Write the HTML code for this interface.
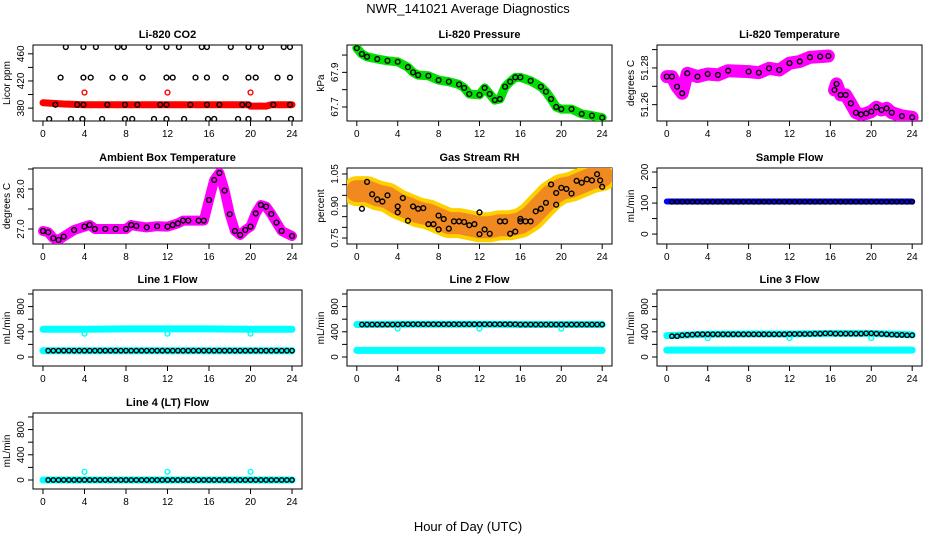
<!DOCTYPE html>
<html><head><meta charset="utf-8"><style>
html,body{margin:0;padding:0;background:#fff;}
svg{display:block;font-family:"Liberation Sans",Arial,sans-serif;}
</style></head><body>
<svg id="chart" width="936" height="540" viewBox="0 0 936 540" xmlns="http://www.w3.org/2000/svg">
<rect width="936" height="540" fill="#fff"/>
<text x="468" y="13" text-anchor="middle" font-size="13">NWR_141021  Average Diagnostics</text>
<text x="468" y="531" text-anchor="middle" font-size="13">Hour of Day (UTC)</text>
</svg>
<script>
// ---------- data ----------
const xTicks = [0,4,8,12,16,20,24];
// CO2
const co2BlackHours = [2.2,3.9,5.1,7.2,7.8,10.2,11.9,13.1,15.3,15.8,18.1,19.8,21.0,23.2,23.8,
 1.7,3.9,4.6,6.7,7.9,9.6,11.9,12.5,14.7,15.8,17.6,19.8,20.5,22.6,23.8,
 1.2,3.3,3.9,6.2,7.9,9.1,11.3,11.9,14.2,15.8,17.0,19.2,19.8,22.2,23.8,
 0.6,2.7,3.8,5.7,7.9,8.6,10.7,11.9,13.6,15.9,16.5,18.8,19.8,21.7,23.9];
const co2BlackVals = [470,470,470,470,470,470,470,470,470,470,470,470,470,470,470,
 425,425,425,425,425,425,425,425,425,425,425,425,425,425,425,
 385,385,385,385,385,385,385,385,385,385,385,385,385,385,385,
 364,364,364,364,364,364,364,364,364,364,364,364,364,364,364];
const co2BandHours = [0,1,2,4,6,8,10,12,14,16,18,19.8,20,21.5,22,24];
const co2BandVals  = [388,387,386,385,385,385,385,385,385,385,385,385,383,383,385,385];
const co2SpikeHours = [4,12,20];
const co2SpikeVals = [403,403,403];
// Pressure
const presHours = [0,0.5,1,2,3,4,5,5.5,6,7,8,9,10,10.5,11,12,12.5,13,13.5,14,14.5,15,15.5,16,17,18,18.5,19,19.5,20,21,22,23,24];
const presVals  = [68.04,68.006,67.99,67.977,67.967,67.961,67.93,67.90,67.884,67.88,67.855,67.846,67.83,67.81,67.775,67.77,67.81,67.775,67.74,67.746,67.817,67.846,67.871,67.871,67.851,67.817,67.788,67.746,67.70,67.688,67.688,67.66,67.65,67.638];
// Li-820 temperature (null = gap)
const tempHours = [0,0.5,1,1.5,2,3,4,5,6,8,9,10,11,12,13,14,15,15.8,16.1,16.4,16.6,17,17.5,18,18.5,19,19.5,20,20.5,21,21.5,22,23,24];
const tempVals  = [51.2753,51.2753,51.2698,51.2662,51.2771,51.2753,51.2767,51.2762,51.2785,51.278,51.2774,51.2798,51.2789,51.2826,51.2835,51.2858,51.2862,51.2865,null,51.268,51.2713,51.2653,51.2653,51.2607,51.2556,51.2547,51.2552,51.2562,51.2586,51.2571,51.258,51.2556,51.2538,51.2531];
// Ambient box temperature
const ambHours = [0,0.5,1,1.5,2,3,4,4.5,5,6,7,8,8.5,9,10,11,12,12.5,13,13.5,14,15,15.5,16,16.5,17,17.5,18,18.5,19,19.5,20,20.5,21,21.5,22,22.5,23,24];
const ambVals  = [26.95,26.92,26.77,26.725,26.81,26.975,27.06,27.1,27.0,27.0,27.0,27.0,27.1,27.075,27.04,27.07,27.06,27.1,27.14,27.21,27.21,27.21,27.21,27.725,28.225,28.4,27.96,27.37,26.95,26.85,26.975,27.06,27.39,27.6,27.56,27.375,27.16,26.95,26.825];
// Gas stream RH
const rhHours = [0.5,1,1.5,2,2.5,3,4,4,4.5,5,5.5,6,6.5,7,7.5,8,8,8.5,9,9.5,10,10.5,11,11.5,12,12,12.5,13,14,14.5,15,15.5,16,16,16.5,17,17.5,18,18.5,19,19.5,19.5,20,20.5,21,21.5,22,22.5,23,23.5,23.8,24];
const rhVals  = [0.887,1.013,0.955,0.931,0.921,0.95,0.898,0.87,0.937,0.831,0.898,0.887,0.89,0.815,0.815,0.855,0.79,0.839,0.794,0.828,0.828,0.825,0.81,0.815,0.768,0.87,0.79,0.77,0.828,0.828,0.77,0.78,0.828,0.84,0.828,0.828,0.875,0.887,0.915,1.001,0.906,0.961,0.985,0.98,0.958,1.018,1.009,1.025,1.02,1.049,1.02,0.99];
const rhBandHours = [0,1,2,3,4,5,6,7,8,9,10,11,12,13,14,15,16,17,18,19,20,21,22,23,24];
const rhBandVals  = [0.97,0.97,0.95,0.94,0.91,0.89,0.87,0.86,0.84,0.82,0.82,0.81,0.80,0.80,0.81,0.81,0.82,0.85,0.90,0.95,0.98,0.99,1.01,1.03,1.04];
// Flows (half-hourly)
const flowBandHours = [0,4,8,12,16,20,24];
const sampleBand = [105,105,105,105,105,105,105];
const sampleBlack = [104,104,104,104,104,104,104,104,104,104,104,104,104,104,104,104,104,104,104,104,104,104,104,104,104,104,104,104,104,104,104,104,104,104,104,104,104,104,104,104,104,104,104,104,104,104,104,104];
const line1High = [440,440,445,445,445,440,440];
const line1Low  = [100,100,100,100,100,100,100];
const line1Black = [100,100,100,100,100,100,100,100,100,100,100,100,100,100,100,100,100,100,100,100,100,100,100,100,100,100,100,100,100,100,100,100,100,100,100,100,100,100,100,100,100,100,100,100,100,100,100,100];
const line1Dip = [370,370,370];
const line2High = [515,520,520,520,515,515,515];
const line2Low  = [104,104,104,104,104,104,104];
const line2Black = [515,515,515,515,515,515,515,515,520,520,520,520,520,520,520,520,520,520,520,520,520,520,520,520,520,520,520,520,520,520,520,515,515,515,515,515,515,515,515,515,515,515,515,515,515,515,515,515];
const line2Dip = [450,450,450];
const line3High = [340,360,365,365,375,375,350];
const line3Low  = [110,110,110,110,110,110,110];
const line3Black = [330,330,345,350,355,360,360,360,360,360,360,360,360,360,360,360,360,360,360,360,360,360,360,365,365,365,365,365,370,370,375,375,370,370,370,370,370,370,375,375,370,365,360,355,350,350,345,345];
const line3Dip = [300,300,300];
const line4Band = [0,0,0,0,0,0,0];
const line4Black = [0,0,0,0,0,0,0,0,0,0,0,0,0,0,0,0,0,0,0,0,0,0,0,0,0,0,0,0,0,0,0,0,0,0,0,0,0,0,0,0,0,0,0,0,0,0,0,0];
const line4Spike = [130,130,130];
const dipHours = [4,12,20];

// ---------- layout ----------
const svg = document.getElementById('chart');
const NS = 'http://www.w3.org/2000/svg';
const cols = [{l:33,r:302},{l:347,r:612},{l:657,r:922}];
const rows = [{t:45,b:121},{t:168,b:244},{t:290,b:366},{t:413,b:489}];
const halfHours = [];
for (let i = 1; i <= 48; i++) halfHours.push(i * 0.5);

function mk(tag, attrs, parent) {
  const e = document.createElementNS(NS, tag);
  for (const k in attrs) e.setAttribute(k, attrs[k]);
  (parent || svg).appendChild(e);
  return e;
}

function panel(name, c, r, title, ylab, ymin, ymax, ticks, labels) {
  const g = mk('g', {});
  
  
  const C = cols[c], R = rows[r];
  const xs = h => C.l + (h + 0.96) / 25.92 * (C.r - C.l);
  const ys = v => R.b - (v - ymin) / (ymax - ymin) * (R.b - R.t);
  const t = mk('text', {x:(C.l + C.r) / 2, y:R.t - 7, 'text-anchor':'middle', 'font-size':11, 'font-weight':'bold'}, g);
  t.textContent = title;
  
  
  const box = mk('rect', {x:C.l, y:R.t, width:C.r - C.l, height:R.b - R.t, fill:'none', stroke:'#000', 'stroke-width':1}, g);
  
  
  const ax = mk('g', {}, g);
  
  
  xTicks.forEach(h => {
    mk('line', {x1:xs(h), x2:xs(h), y1:R.b, y2:R.b + 5, stroke:'#000'}, ax);
    const tl = mk('text', {x:xs(h), y:R.b + 16, 'text-anchor':'middle', 'font-size':10}, ax);
    tl.textContent = h;
  });
  const ay = mk('g', {}, g);
  
  
  ticks.forEach((v, i) => {
    mk('line', {x1:C.l - 5, x2:C.l, y1:ys(v), y2:ys(v), stroke:'#000'}, ay);
    if (labels[i] !== '') {
      const tl = mk('text', {x:0, y:0, 'text-anchor':'middle', 'font-size':10, transform:`translate(${C.l - 9},${ys(v)}) rotate(-90)`}, ay);
      tl.textContent = labels[i];
    }
  });
  const yt = mk('text', {x:0, y:0, 'text-anchor':'middle', 'font-size':10, transform:`translate(${C.l - 23},${(R.t + R.b) / 2}) rotate(-90)`}, g);
  yt.textContent = ylab;
  
  
  const clipId = 'clip-' + name;
  const cp = mk('clipPath', {id:clipId}, g);
  mk('rect', {x:C.l, y:R.t, width:C.r - C.l, height:R.b - R.t}, cp);
  const dg = mk('g', {'clip-path':`url(#${clipId})`}, g);
  return {xs, ys, g:dg};
}

function band(P, hs, vs, color, w, name) {
  let segs = [], cur = [];
  hs.forEach((h, i) => {
    if (vs[i] === null) { if (cur.length) segs.push(cur); cur = []; }
    else cur.push(P.xs(h).toFixed(1) + ',' + P.ys(vs[i]).toFixed(1));
  });
  if (cur.length) segs.push(cur);
  segs.forEach(s => {
    const p = mk('polyline', {points:s.join(' '), fill:'none', stroke:color, 'stroke-width':w, 'stroke-linecap':'round', 'stroke-linejoin':'round'}, P.g);
    
    
  });
}
function pts(P, hs, vs, color, name, rr) {
  hs.forEach((h, i) => {
    if (vs[i] === null) return;
    const c = mk('circle', {cx:P.xs(h), cy:P.ys(vs[i]), r:rr || 2.4, fill:'none', stroke:color, 'stroke-width':1.4}, P.g);
    
    
  });
}

// CO2
let P = panel('co2', 0, 0, 'Li-820 CO2', 'Licor ppm', 361, 473, [380,400,420,440,460], ['380','','420','','460']);
band(P, co2BandHours, co2BandVals, '#ff0000', 7, 'co2-band');
pts(P, co2SpikeHours, co2SpikeVals, '#ff0000', 'co2-red-point');
pts(P, co2BlackHours, co2BlackVals, '#000', 'co2-point');
// Pressure
P = panel('pressure', 1, 0, 'Li-820 Pressure', 'kPa', 67.619, 68.058, [67.7,67.8,67.9,68.0], ['67.7','','67.9','']);
band(P, presHours, presVals, '#00e000', 9, 'pressure-band');
pts(P, presHours, presVals, '#000', 'pressure-point');
// Temperature
P = panel('li820-temp', 2, 0, 'Li-820 Temperature', 'degrees C', 51.2511, 51.2925, [51.26,51.27,51.28,51.29], ['51.26','','51.28','']);
band(P, tempHours, tempVals, '#ff00ff', 13, 'temp-band');
pts(P, tempHours, tempVals, '#000', 'temp-point');
// Ambient
P = panel('ambient-temp', 0, 1, 'Ambient Box Temperature', 'degrees C', 26.625, 28.525, [27.0,27.5,28.0,28.5], ['27.0','','28.0','']);
band(P, ambHours, ambVals, '#ff00ff', 10, 'ambient-band');
pts(P, ambHours, ambVals, '#000', 'ambient-point');
// RH
P = panel('rh', 1, 1, 'Gas Stream RH', 'percent', 0.722, 1.078, [0.75,0.80,0.85,0.90,0.95,1.00,1.05], ['0.75','','','0.90','','','1.05']);
band(P, rhBandHours, rhBandVals, '#ffd000', 30, 'rh-band-outer');
band(P, rhBandHours, rhBandVals, '#f08a20', 22, 'rh-band');
pts(P, rhHours, rhVals, '#000', 'rh-point');
// Sample flow
P = panel('sample-flow', 2, 1, 'Sample Flow', 'mL/min', -32, 213, [0,50,100,150,200], ['0','','100','','200']);
band(P, flowBandHours, sampleBand, '#0000ff', 6, 'sample-band');
pts(P, halfHours, sampleBlack, '#000', 'sample-point', 2.2);
// Line 1
const flowTicks = [0,200,400,600,800,1000], flowLabels = ['0','','400','','800',''];
P = panel('line1-flow', 0, 2, 'Line 1 Flow', 'mL/min', -143, 1063, flowTicks, flowLabels);
band(P, flowBandHours, line1High, '#00ffff', 7, 'line1-cyan-high');
band(P, flowBandHours, line1Low, '#00ffff', 7, 'line1-cyan-low');
pts(P, dipHours, line1Dip, '#00ffff', 'line1-cyan-dip');
pts(P, halfHours, line1Black, '#000', 'line1-point', 2.2);
// Line 2
P = panel('line2-flow', 1, 2, 'Line 2 Flow', 'mL/min', -143, 1063, flowTicks, flowLabels);
band(P, flowBandHours, line2High, '#00ffff', 7, 'line2-cyan-high');
band(P, flowBandHours, line2Low, '#00ffff', 7, 'line2-cyan-low');
pts(P, dipHours, line2Dip, '#00ffff', 'line2-cyan-dip');
pts(P, halfHours, line2Black, '#000', 'line2-point', 2.2);
// Line 3
P = panel('line3-flow', 2, 2, 'Line 3 Flow', 'mL/min', -143, 1063, flowTicks, flowLabels);
band(P, flowBandHours, line3High, '#00ffff', 7, 'line3-cyan-high');
band(P, flowBandHours, line3Low, '#00ffff', 7, 'line3-cyan-low');
pts(P, dipHours, line3Dip, '#00ffff', 'line3-cyan-dip');
pts(P, halfHours, line3Black, '#000', 'line3-point', 2.2);
// Line 4
P = panel('line4-flow', 0, 3, 'Line 4 (LT) Flow', 'mL/min', -143, 1063, flowTicks, flowLabels);
band(P, flowBandHours, line4Band, '#00ffff', 7, 'line4-cyan');
pts(P, dipHours, line4Spike, '#00ffff', 'line4-cyan-spike');
pts(P, halfHours, line4Black, '#000', 'line4-point', 2.2);
</script>
</body></html>
